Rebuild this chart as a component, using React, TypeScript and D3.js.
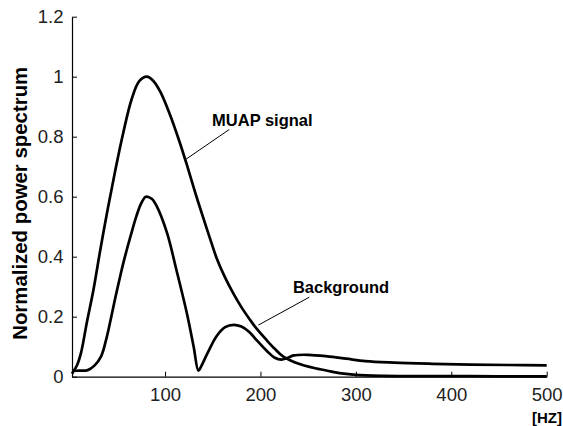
import { useEffect, useRef } from "react";
import * as d3 from "d3";

// frequencies (Hz) and normalized power
const muapFreq = [2.5, 8, 12, 18, 25, 32, 40, 48, 56, 65, 73, 81, 88, 95, 105, 115, 123, 131, 140, 147, 154, 163, 172, 180, 189, 196, 207, 215, 224, 241, 255, 270, 285, 300, 330, 370, 420, 460, 500];
const muapPower = [0.01, 0.04, 0.08, 0.18, 0.29, 0.42, 0.56, 0.69, 0.81, 0.925, 0.985, 1.0, 0.985, 0.95, 0.875, 0.785, 0.705, 0.62, 0.53, 0.462, 0.396, 0.33, 0.275, 0.232, 0.19, 0.16, 0.12, 0.093, 0.067, 0.042, 0.03, 0.02, 0.011, 0.006, 0.003, 0.002, 0.002, 0.001, 0.001];

const bgFreq = [2.5, 10, 19, 26, 33, 38, 43, 48, 53, 58, 64, 70, 75, 80, 86, 91, 102, 112, 123, 130, 135, 138, 144, 154, 163, 172, 180, 188, 196, 207, 215, 222, 228, 235, 250, 270, 290, 310, 340, 380, 420, 460, 500];
const bgPower = [0.02, 0.02, 0.022, 0.037, 0.068, 0.12, 0.19, 0.265, 0.335, 0.4, 0.47, 0.535, 0.578, 0.6, 0.593, 0.57, 0.48, 0.355, 0.21, 0.1, 0.02, 0.035, 0.075, 0.135, 0.165, 0.173, 0.167, 0.15, 0.122, 0.085, 0.063, 0.057, 0.062, 0.071, 0.073, 0.068, 0.06, 0.052, 0.047, 0.043, 0.04, 0.039, 0.038];

const xTicks = [100, 200, 300, 400, 500];
const yTicks = [0, 0.2, 0.4, 0.6, 0.8, 1, 1.2];

// annotation labels (data units): text anchor, then leader line start/end
const labels = [
  { text: "MUAP signal", tx: 149.3, ty: 0.836, x1: 167.3, y1: 0.824, x2: 122, y2: 0.725 },
  { text: "Background", tx: 234, ty: 0.278, x1: 251.2, y1: 0.265, x2: 197.8, y2: 0.172 },
];

const font = "'Liberation Sans', Arial, sans-serif";

export default function App() {
  const ref = useRef<SVGSVGElement>(null);

  useEffect(() => {
    const svg = d3.select(ref.current);
    svg.selectAll("*").remove();

    const x = d3.scaleLinear().domain([2.5, 500]).range([72, 546.7]);
    const y = d3.scaleLinear().domain([0, 1.2]).range([376.7, 16.7]);

    const g = svg.append("g");

    // curves
    const line = d3.line<[number, number]>()
      .x(d => x(d[0]))
      .y(d => y(d[1]))
      .curve(d3.curveCatmullRom.alpha(0.5));

    const series = [
      d3.zip(muapFreq, muapPower) as [number, number][],
      d3.zip(bgFreq, bgPower) as [number, number][],
    ];
    g.selectAll("path.curve")
      .data(series)
      .join("path")
      .attr("class", "curve")
      .attr("d", d => line(d))
      .attr("fill", "none")
      .attr("stroke", "#000")
      .attr("stroke-width", 2.7)
      .attr("stroke-linejoin", "round");

    // axes (ticks point inward, no box)
    const xAxis = g.append("g")
      .attr("transform", `translate(0,${y(0)})`)
      .call(d3.axisBottom(x).tickValues(xTicks).tickSizeInner(-5).tickSizeOuter(0));
    xAxis.selectAll(".tick text").attr("y", 24.5).attr("dy", 0);

    const yAxis = g.append("g")
      .attr("transform", `translate(${x(2.5)},0)`)
      .call(d3.axisLeft(y).tickValues(yTicks).tickFormat(d3.format("~g")).tickSizeInner(-5).tickSizeOuter(0).tickPadding(8.5));

    [xAxis, yAxis].forEach(a => {
      a.select(".domain").attr("stroke", "#000").attr("stroke-width", 1.2);
      a.selectAll(".tick line").attr("stroke", "#000");
      a.selectAll(".tick text")
        .attr("fill", "#222")
        .style("font-family", font)
        .style("font-size", "18.5px");
    });

    // axis titles
    g.append("text")
      .attr("transform", `translate(26.7,203.3) rotate(-90)`)
      .attr("text-anchor", "middle")
      .style("font-family", font)
      .style("font-size", "20.4px")
      .style("font-weight", "bold")
      .text("Normalized power spectrum");

    g.append("text")
      .attr("x", 562)
      .attr("y", 423)
      .attr("text-anchor", "end")
      .style("font-family", font)
      .style("font-size", "15px")
      .style("font-weight", "bold")
      .text("[HZ]");

    // annotations
    labels.forEach(l => {
      g.append("line")
        .attr("x1", x(l.x1)).attr("y1", y(l.y1))
        .attr("x2", x(l.x2)).attr("y2", y(l.y2))
        .attr("stroke", "#000")
        .attr("stroke-width", 1);
      g.append("text")
        .attr("x", x(l.tx))
        .attr("y", y(l.ty))
        .style("font-family", font)
        .style("font-size", "16.5px")
        .style("font-weight", "bold")
        .text(l.text);
    });
  }, []);

  return (
    <svg
      ref={ref}
      width={563}
      height={426}
      style={{ position: "absolute", left: 0, top: 0, background: "#fff" }}
    />
  );
}
